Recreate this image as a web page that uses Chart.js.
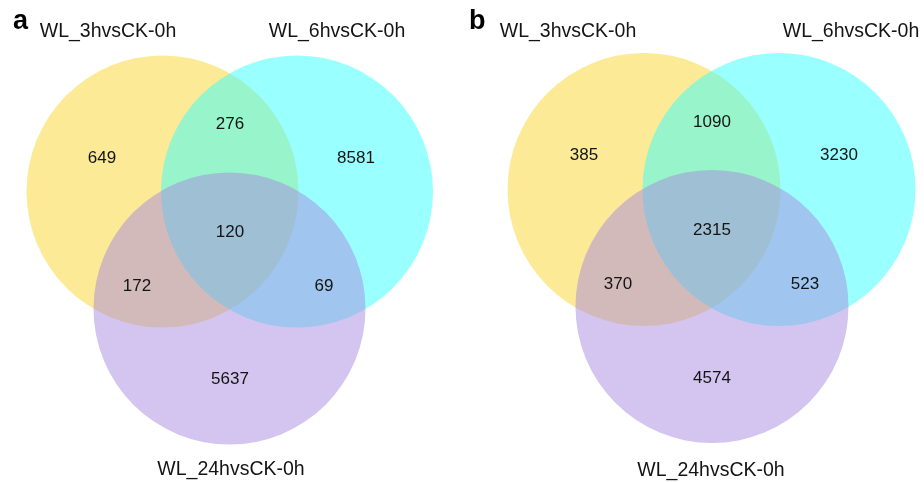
<!DOCTYPE html>
<html>
<head>
<meta charset="utf-8">
<title>Venn diagrams of differentially expressed genes</title>
<script src="https://cdn.jsdelivr.net/npm/chart.js@4/dist/chart.umd.min.js"></script>
<style>
  html, body { margin: 0; padding: 0; background: #ffffff; }
  #wrap { position: relative; width: 924px; height: 482px; }
  #wrap canvas { position: absolute; top: 0; }
</style>
</head>
<body>
<div id="wrap">
  <canvas id="panelA" width="462" height="482" style="left:0"></canvas>
  <canvas id="panelB" width="462" height="482" style="left:462px"></canvas>
</div>
<script>
// Comparison names (one circle each)
const setNames = ['WL_3hvsCK-0h', 'WL_6hvsCK-0h', 'WL_24hvsCK-0h'];

// Region order: 3h only, 6h only, 24h only, 3h∩6h, 3h∩24h, 6h∩24h, all three
const regionKeys = ['3h', '6h', '24h', '3h+6h', '3h+24h', '6h+24h', '3h+6h+24h'];

// Gene counts per region
const countsA = [649, 8581, 5637, 276, 172, 69, 120];
const countsB = [385, 3230, 4574, 1090, 370, 523, 2315];

const panelLetters = ['a', 'b'];

// Circle fills (drawn half-transparent so overlaps blend)
const circleColors = ['rgba(251,214,45,0.5)', 'rgba(51,255,255,0.5)', 'rgba(167,139,223,0.5)'];

// Geometry of each panel, in panel units (one unit = one pixel of the panel)
const layoutA = {
  radius: 136,
  centers: [[162.5, 191.5], [297, 191.5], [229.5, 308.5]],
  regionAt: [[102, 157], [356, 157], [230, 378], [230, 123], [137, 285], [324, 285], [230, 231]],
  namesAt: [[108, 37], [337, 37], [231, 475]],
  letterAt: [13, 29]
};
const layoutB = {
  radius: 136.5,
  centers: [[182, 189.5], [317, 189.5], [250, 306.5]],
  regionAt: [[122, 154], [377, 154], [250, 377], [250, 121], [156, 283], [343, 283], [250, 229]],
  namesAt: [[106, 37], [389, 37], [249, 476]],
  letterAt: [7, 29]
};

const FONT = '"Liberation Sans", Arial, Helvetica, sans-serif';

function textPlugin(counts, layout, letter) {
  return {
    id: 'vennText',
    afterDatasetsDraw(chart) {
      const { ctx, scales: { x, y } } = chart;
      ctx.save();
      ctx.fillStyle = '#141414';
      ctx.textAlign = 'center';
      ctx.textBaseline = 'middle';
      ctx.font = '17px ' + FONT;
      counts.forEach((v, i) => {
        const [px, py] = layout.regionAt[i];
        ctx.fillText(String(v), x.getPixelForValue(px), y.getPixelForValue(py) + 1);
      });
      ctx.textBaseline = 'alphabetic';
      ctx.font = '19.5px ' + FONT;
      setNames.forEach((name, i) => {
        const [px, py] = layout.namesAt[i];
        ctx.fillText(name, x.getPixelForValue(px), y.getPixelForValue(py));
      });
      ctx.textAlign = 'left';
      ctx.fillStyle = '#000';
      ctx.font = 'bold 27px ' + FONT;
      ctx.fillText(letter, x.getPixelForValue(layout.letterAt[0]), y.getPixelForValue(layout.letterAt[1]));
      ctx.restore();
    }
  };
}

function drawPanel(canvasId, counts, layout, letter) {
  const W = 462, H = 482;
  const datasets = layout.centers.map((c, i) => ({
    label: setNames[i],
    data: [{ x: c[0], y: c[1] }],
    backgroundColor: circleColors[i],
    borderWidth: 0,
    clip: false,
    // later sets are painted over earlier ones
    order: layout.centers.length - i,
    radius: (ctx) => layout.radius * ctx.chart.width / W
  }));
  new Chart(document.getElementById(canvasId), {
    type: 'bubble',
    data: { datasets },
    options: {
      responsive: false,
      animation: false,
      events: [],
      layout: { padding: 0, autoPadding: false },
      plugins: { legend: { display: false }, tooltip: { enabled: false } },
      elements: { point: { hoverRadius: 0, borderWidth: 0 } },
      scales: {
        x: { type: 'linear', min: 0, max: W, display: false },
        y: { type: 'linear', min: 0, max: H, reverse: true, display: false }
      }
    },
    plugins: [textPlugin(counts, layout, letter)]
  });
}

drawPanel('panelA', countsA, layoutA, panelLetters[0]);
drawPanel('panelB', countsB, layoutB, panelLetters[1]);
</script>
</body>
</html>
